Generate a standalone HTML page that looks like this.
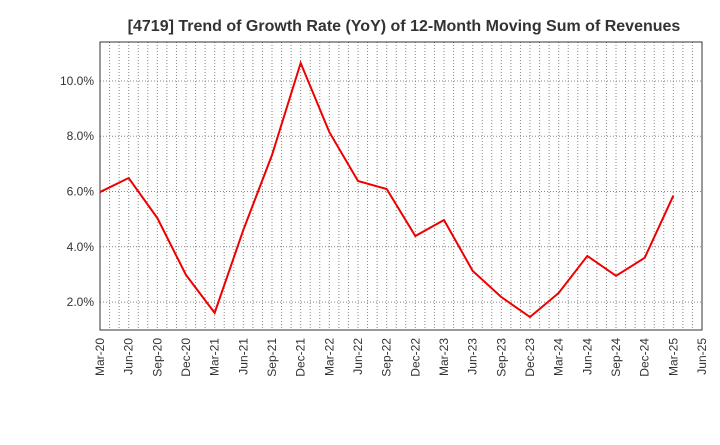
<!DOCTYPE html>
<html><head><meta charset="utf-8"><style>
body{margin:0;background:#fff;font-family:"Liberation Sans",sans-serif}
</style></head><body>
<svg id="chart" width="720" height="440" xmlns="http://www.w3.org/2000/svg">
<text x="404" y="31" text-anchor="middle" font-size="16" font-weight="bold" fill="#333">[4719]  Trend of Growth Rate (YoY) of 12-Month Moving Sum of Revenues</text>
<g id="grid"></g>
<g id="yaxis"></g>
<g id="xaxis"></g>
<rect x="100" y="42" width="602" height="288" fill="none" stroke="#333"/>
<g id="series"></g>
</svg>
<script>
const categories=["Mar-20","Jun-20","Sep-20","Dec-20","Mar-21","Jun-21","Sep-21","Dec-21","Mar-22","Jun-22","Sep-22","Dec-22","Mar-23","Jun-23","Sep-23","Dec-23","Mar-24","Jun-24","Sep-24","Dec-24","Mar-25","Jun-25"];
const values=[5.98,6.49,5.04,2.98,1.61,4.61,7.32,10.65,8.15,6.38,6.09,4.39,4.97,3.13,2.18,1.46,2.33,3.67,2.95,3.60,5.85];
const yTicks=[2,4,6,8,10];
const yTickLabels=["2.0%","4.0%","6.0%","8.0%","10.0%"];
const NS="http://www.w3.org/2000/svg";
const L=100,R=702,T=42,B=330,yMin=0.99,yMax=11.41;
const x=i=>L+(R-L)*i/(categories.length-1);
const y=v=>B-(v-yMin)/(yMax-yMin)*(B-T);
function mk(p,tag,a){const e=document.createElementNS(NS,tag);for(const k in a)e.setAttribute(k,a[k]);p.appendChild(e);return e;}
const g=document.getElementById('grid'),ya=document.getElementById('yaxis'),xa=document.getElementById('xaxis'),s=document.getElementById('series');
const months=(categories.length-1)*3;
for(let m=1;m<months;m++){const xx=L+(R-L)*m/months;const l=mk(g,'line',{x1:xx,x2:xx,y1:T,y2:B,stroke:'#888','stroke-dasharray':'1,2','stroke-width':1});

}
yTicks.forEach((v,i)=>{const yy=y(v);const l=mk(g,'line',{x1:L,x2:R,y1:yy,y2:yy,stroke:'#888','stroke-dasharray':'1,2'});


const t=mk(ya,'text',{x:L-6,y:yy+4,'text-anchor':'end','font-size':12,fill:'#333'});t.textContent=yTickLabels[i];

});
categories.forEach((c,i)=>{const xx=x(i);const t=mk(xa,'text',{x:xx+4,y:B+8,'text-anchor':'end','font-size':12,fill:'#333',transform:`rotate(-90 ${xx+4} ${B+8})`});t.textContent=c;

});
const p=mk(s,'polyline',{points:values.map((v,i)=>x(i)+','+y(v)).join(' '),fill:'none',stroke:'#e00','stroke-width':2});


</script>
</body></html>
